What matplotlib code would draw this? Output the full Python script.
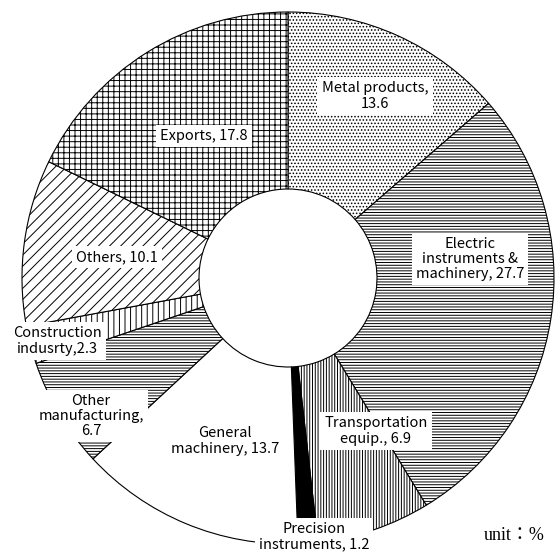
import matplotlib
matplotlib.use("Agg")
import matplotlib.pyplot as plt

# shares in %, clockwise from 12 o'clock
categories = ["Metal products", "Electric instruments & machinery", "Transportation equip.",
              "Precision instruments", "General machinery", "Other manufacturing",
              "Construction indusrty", "Others", "Exports"]
shares = [13.6, 27.7, 6.9, 1.2, 13.7, 6.7, 2.3, 10.1, 17.8]
label_texts = ["Metal products,\n13.6", "Electric\ninstruments &\nmachinery, 27.7",
               "Transportation\nequip., 6.9", "Precision\ninstruments, 1.2",
               "General\nmachinery, 13.7", "Other\nmanufacturing,\n6.7",
               "Construction\nindusrty,2.3", "Others, 10.1", "Exports, 17.8"]

hatches = [".....", "------", "||||||", None, None, "------", "|||", "///", "+++"]
fills = ["white", "white", "white", "black", "white", "white", "white", "white", "white"]

# label centres in pixel coordinates of the 560x552 picture
label_pos = [(375, 96), (470, 259), (376, 431), (314, 537), (225, 441),
             (91, 416), (57, 341), (117, 257), (204, 136)]

W, H = 560, 552
plt.rcParams["font.family"] = ["Noto Sans CJK JP", "DejaVu Sans"]
plt.rcParams["hatch.linewidth"] = 0.7

fig = plt.figure(figsize=(W / 100, H / 100), dpi=100)
ax = fig.add_axes([0, 0, 1, 1])

cx, cy, r = 288, H - 278, 266
wedges, _ = ax.pie(shares, startangle=90, counterclock=False, center=(cx, cy), radius=r,
                   colors=fills, wedgeprops=dict(width=r - 89, edgecolor="black", linewidth=0.8),
                   frame=True)
for w, h in zip(wedges, hatches):
    if h:
        w.set_hatch(h)
ax.set_xlim(0, W)
ax.set_ylim(0, H)
ax.set_aspect("equal")
ax.axis("off")

for txt, (x, y) in zip(label_texts, label_pos):
    ax.text(x, H - y, txt, ha="center", va="center", fontsize=10.5, linespacing=1.1,
            zorder=5, bbox=dict(facecolor="white", edgecolor="none", pad=3))

ax.text(514, H - 535, "unit：%", ha="center", va="center", fontsize=13,
        family=["Liberation Serif", "Noto Sans CJK JP"], zorder=5)

fig.savefig("out.png", dpi=100)
